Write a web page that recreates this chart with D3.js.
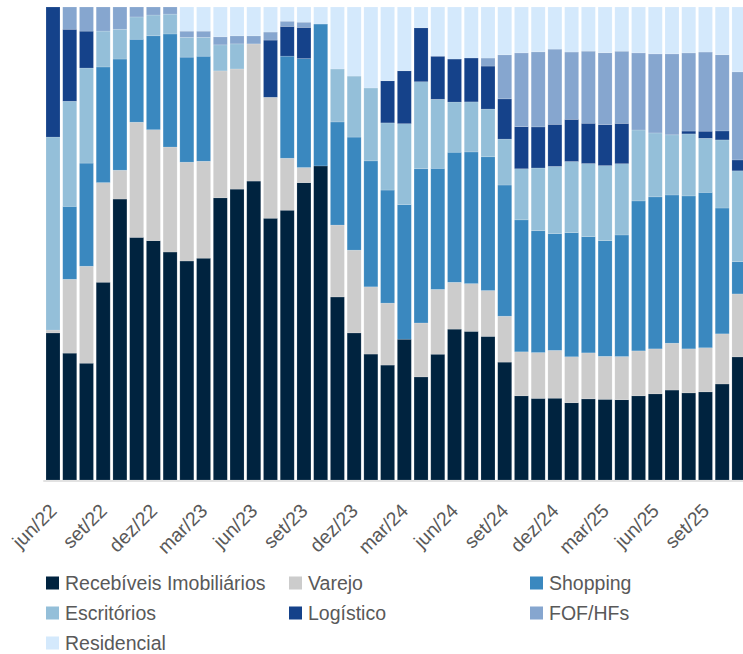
<!DOCTYPE html>
<html>
<head>
<meta charset="utf-8">
<script src="https://cdn.jsdelivr.net/npm/d3@7"></script>
<style>
  html, body { margin: 0; padding: 0; background: #fff; }
  svg { display: block; }
</style>
</head>
<body>
<svg id="chart" width="743" height="654"></svg>
<script>
// ---- DATA ----
const months = ["jun/22","jul/22","ago/22","set/22","out/22","nov/22","dez/22",
  "jan/23","fev/23","mar/23","abr/23","mai/23","jun/23","jul/23","ago/23","set/23","out/23","nov/23","dez/23",
  "jan/24","fev/24","mar/24","abr/24","mai/24","jun/24","jul/24","ago/24","set/24","out/24","nov/24","dez/24",
  "jan/25","fev/25","mar/25","abr/25","mai/25","jun/25","jul/25","ago/25","set/25","out/25","nov/25"];

const tickLabels = ["jun/22","set/22","dez/22","mar/23","jun/23","set/23","dez/23","mar/24","jun/24","set/24","dez/24","mar/25","jun/25","set/25"];

const seriesNames = ["Recebíveis Imobiliários","Varejo","Shopping","Escritórios","Logístico","FOF/HFs","Residencial"];

const recebiveis  = [31.1,26.8,24.7,41.9,59.4,51.2,50.7,48.2,46.3,46.9,59.6,61.5,63.2,55.4,57.1,62.8,66.4,38.7,31.1,26.6,24.3,29.8,21.8,26.6,31.9,31.5,30.4,24.9,17.8,17.3,17.3,16.3,17.1,17.1,16.9,17.8,18.2,19.0,18.4,18.6,20.3,26.0];
const varejo      = [0.6,15.6,20.5,21.1,6.1,24.3,23.5,22.2,20.9,20.5,26.8,25.4,29.0,25.6,11.0,3.2,0,15.2,17.5,14.2,13.1,0,11.4,13.7,9.9,10.1,9.7,9.7,9.3,9.7,10.1,9.7,9.7,9.1,9.1,9.5,9.5,9.9,9.3,9.3,10.6,13.3];
const shopping    = [0,15.4,21.8,24.5,23.5,17.5,19.9,23.9,22.2,22.2,0,0,0,0,21.6,23.0,30.0,21.8,23.9,26.6,23.9,28.5,32.6,25.6,27.5,27.9,28.3,27.7,27.9,25.8,24.7,26.2,24.5,24.5,25.6,31.7,32.1,31.3,32.3,32.8,26.6,6.8];
const escritorios = [40.8,22.2,20.1,7.6,6.3,4.7,4.4,4.2,4.2,4.0,5.5,5.3,0,0,0,0,0,11.2,12.9,15.4,14.2,17.1,18.4,14.6,10.6,10.6,10.1,9.7,10.8,13.3,14.2,15.0,15.4,15.9,15.0,15.0,13.5,12.7,13.1,11.4,14.4,19.2];
const logistico   = [27.5,15.2,7.8,0,0,0,0,0,0,0,0,0,0,12.1,6.3,6.6,0,0,0,0,8.9,11.2,11.4,9.1,9.1,9.3,9.1,8.5,8.9,8.7,8.9,8.9,8.5,8.7,8.5,0,0,0,0.6,1.5,1.9,2.3];
const fofhfs      = [0,4.7,5.1,5.1,4.7,2.1,1.7,1.5,1.3,1.3,1.7,1.7,1.7,1.7,1.1,1.1,0,0,0,0,0,0,0,0,0,0,1.7,9.3,15.6,15.9,15.9,14.2,15.2,15.2,15.2,16.3,16.7,17.1,16.5,16.7,16.1,18.6];
const residencial = [0,0,0,0,0,0,0,0,5.1,5.1,6.3,6.1,6.1,5.3,3.0,3.2,3.6,13.1,14.6,17.1,15.6,13.5,4.4,10.4,11.0,10.8,10.8,10.1,9.7,9.5,8.9,9.5,9.3,9.7,9.3,9.7,9.9,9.9,9.7,9.5,10.1,13.7];

const colors = ["#00233f","#cccccc","#3a88bf","#94bfd9","#15428a","#86a6cf","#d4e9fc"];

// ---- BUILD ----
const seriesArrays = [recebiveis, varejo, shopping, escritorios, logistico, fofhfs, residencial];
const table = months.map((m, i) => {
  const row = { month: m };
  seriesNames.forEach((s, k) => row[s] = seriesArrays[k][i]);
  return row;
});

const svg = d3.select("#chart");
const W = 743, H = 654;
const yTop = 7, yBottom = 480;

const step = 16.73, pad = 0.163;
const r0 = 46 - step * pad;
const x = d3.scaleBand()
  .domain(months)
  .range([r0, r0 + step * (months.length + pad)])
  .paddingInner(pad)
  .paddingOuter(pad);

const y = d3.scaleLinear().domain([0, 1]).range([yBottom, yTop]);

const stack = d3.stack().keys(seriesNames).offset(d3.stackOffsetExpand);
const stacked = stack(table);

const gBars = svg.append("g");
gBars.selectAll("g.series")
  .data(stacked)
  .join("g")
  .attr("class", "series")
  .attr("fill", (d, i) => colors[i])
  .selectAll("rect")
  .data(d => d)
  .join("rect")
  .attr("x", d => x(d.data.month))
  .attr("width", x.bandwidth())
  .attr("y", d => y(d[1]))
  .attr("height", d => Math.max(0, y(d[0]) - y(d[1])))
  .attr("stroke", "#ffffff")
  .attr("stroke-opacity", 0.25)
  .attr("stroke-width", 0.6);

// baseline
svg.append("line")
  .attr("x1", r0).attr("x2", W)
  .attr("y1", yBottom + 1).attr("y2", yBottom + 1)
  .attr("stroke", "#d9d9d9").attr("stroke-width", 1.5);

// x axis
const xAxis = d3.axisBottom(x).tickValues(tickLabels).tickSize(0);
const gx = svg.append("g").attr("transform", `translate(0,${yBottom + 1})`).call(xAxis);
gx.select(".domain").remove();
gx.selectAll("text")
  .attr("x", 0).attr("y", 0).attr("dy", 0)
  .attr("transform", "translate(5,31) rotate(-45)")
  .style("text-anchor", "end")
  .attr("fill", "#595959")
  .style("font-family", "'Liberation Sans', Arial, sans-serif")
  .style("font-size", "19.5px");

// legend
const legendPos = [
  [46, 583], [289, 583], [530, 583],
  [46, 613], [289, 613], [530, 613],
  [46, 643]
];
const gl = svg.append("g");
seriesNames.forEach((name, i) => {
  const [lx, ly] = legendPos[i];
  gl.append("rect").attr("x", lx).attr("y", ly - 6.5).attr("width", 13).attr("height", 13).attr("fill", colors[i]);
  gl.append("text").attr("x", lx + 19).attr("y", ly).attr("dy", "0.36em")
    .attr("fill", "#595959")
    .style("font-family", "'Liberation Sans', Arial, sans-serif")
    .style("font-size", "19.5px")
    .text(name);
});
</script>
</body>
</html>
